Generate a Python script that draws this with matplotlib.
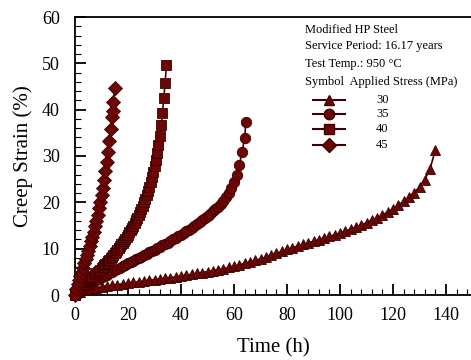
import matplotlib
matplotlib.use("Agg")
import matplotlib.pyplot as plt
from matplotlib.lines import Line2D

plt.rcParams['font.family'] = ['Liberation Serif', 'DejaVu Serif']

# 30 MPa (triangles)
t30 = [0, 2, 4, 6, 8, 10, 12, 14, 16, 18, 20, 22, 24, 26, 28, 30, 32, 34, 36, 38,
       40, 42, 44, 46, 48, 50, 52, 54, 56, 58, 60, 62, 64, 66, 68, 70, 72, 74, 76, 78,
       80, 82, 84, 86, 88, 90, 92, 94, 96, 98, 100, 102, 104, 106, 108, 110, 112, 114,
       116, 118, 120, 122, 124, 126, 128, 130, 132, 134, 136]
s30 = [0, 0.6, 1.0, 1.3, 1.55, 1.75, 1.95, 2.1, 2.25, 2.4, 2.55, 2.7, 2.85, 3.0, 3.15,
       3.3, 3.45, 3.6, 3.75, 3.9, 4.05, 4.25, 4.45, 4.65, 4.85, 5.05, 5.25, 5.45, 5.7,
       5.95, 6.2, 6.5, 6.8, 7.1, 7.45, 7.8, 8.2, 8.6, 9.0, 9.4, 9.85, 10.2, 10.55, 10.9,
       11.25, 11.6, 11.95, 12.3, 12.65, 13.0, 13.4, 13.8, 14.2, 14.65, 15.1, 15.6, 16.1,
       16.65, 17.25, 17.9, 18.6, 19.4, 20.2, 21.1, 22.1, 23.3, 24.9, 27.3, 31.3]

# 35 MPa (circles)
t35 = [0, 1, 2, 3, 4, 5, 6, 7, 8, 9, 10, 11, 12, 13, 14, 15, 16, 17, 18, 19, 20,
       21, 22, 23, 24, 25, 26, 27, 28, 29, 30, 31, 32, 33, 34, 35, 36, 37, 38, 39, 40,
       41, 42, 43, 44, 45, 46, 47, 48, 49, 50, 51, 52, 53, 54, 55, 56, 57, 58, 59, 60,
       61, 62, 63, 64, 64.5]
s35 = [0, 0.7, 1.2, 1.65, 2.05, 2.4, 2.7, 3.0, 3.3, 3.55, 3.8, 4.1, 4.4, 4.7, 5.0,
       5.3, 5.6, 5.9, 6.2, 6.5, 6.8, 7.1, 7.4, 7.7, 8.0, 8.3, 8.6, 8.9, 9.2, 9.5, 9.8,
       10.1, 10.4, 10.7, 11.0, 11.3, 11.65, 12.0, 12.35, 12.7, 13.05, 13.4, 13.75, 14.1,
       14.5, 14.9, 15.3, 15.7, 16.15, 16.6, 17.05, 17.55, 18.05, 18.55, 19.05, 19.6,
       20.3, 21.1, 22.0, 23.0, 24.3, 25.9, 28.0, 30.8, 33.8, 37.3]

# 40 MPa (squares)
t40 = [0, 0.5, 1, 1.5, 2, 2.5, 3, 3.5, 4, 4.5, 5, 5.5, 6, 6.5, 7, 7.5, 8, 8.5, 9, 9.5,
       10, 10.5, 11, 11.5, 12, 12.5, 13, 13.5, 14, 14.5, 15, 15.5, 16, 16.5, 17, 17.5,
       18, 18.5, 19, 19.5, 20, 20.5, 21, 21.5, 22, 22.5, 23, 23.5, 24, 24.5, 25, 25.5,
       26, 26.5, 27, 27.5, 28, 28.5, 29, 29.5, 30, 30.5, 31, 31.5, 32, 32.5, 33, 33.5,
       34, 34.5]
s40 = [0, 0.5, 0.9, 1.25, 1.6, 1.9, 2.2, 2.45, 2.7, 2.95, 3.2, 3.45, 3.7, 3.95, 4.2,
       4.45, 4.7, 4.95, 5.2, 5.5, 5.8, 6.1, 6.4, 6.7, 7.0, 7.3, 7.6, 7.95, 8.3, 8.65,
       9.0, 9.35, 9.7, 10.1, 10.5, 10.9, 11.3, 11.7, 12.1, 12.55, 13.0, 13.5, 14.0,
       14.5, 15.0, 15.55, 16.1, 16.7, 17.3, 17.95, 18.6, 19.3, 20.0, 20.8, 21.6, 22.5,
       23.4, 24.4, 25.4, 26.6, 27.8, 29.1, 30.6, 32.3, 34.3, 36.6, 39.3, 42.5, 45.8, 49.6]

# 45 MPa (diamonds)
t45 = [0, 0.5, 1, 1.5, 2, 2.5, 3, 3.5, 4, 4.5, 5, 5.5, 6, 6.5, 7, 7.5, 8, 8.5, 9,
       9.5, 10, 10.5, 11, 11.5, 12, 12.5, 13, 13.5, 14, 14.25, 14.5, 15]
s45 = [0, 1.3, 2.3, 3.2, 4.1, 5.0, 5.9, 6.8, 7.7, 8.6, 9.6, 10.6, 11.6, 12.6, 13.7,
       14.8, 16.0, 17.3, 18.7, 20.1, 21.6, 23.2, 24.9, 26.7, 28.6, 30.8, 33.3, 35.8,
       38.4, 39.8, 41.6, 44.6]

stress_labels = ["30", "35", "40", "45"]
markers = ["^", "o", "s", "D"]
fill = "#6e0505"
edge = "#3c0000"

fig = plt.figure(figsize=(4.71, 3.6), dpi=100)
ax = fig.add_axes([75/471, 65/360, 397.5/471, 278/360])

series = [(t30, s30, 7), (t35, s35, 7.5), (t40, s40, 6.5), (t45, s45, 7)]
for (t, s, ms), m in zip(series, markers):
    ax.plot(t, s, color=edge, lw=1.2, marker=m, ms=ms, mfc=fill, mec=edge,
            mew=0.6, clip_on=False, zorder=3)

ax.set_xlim(0, 150)
ax.set_ylim(0, 60)
ax.set_xticks(range(0, 141, 20))
ax.set_xticks(range(0, 151, 4), minor=True)
ax.set_yticks(range(0, 61, 10))
ax.set_yticks(range(0, 61, 2), minor=True)
ax.tick_params(which='major', direction='in', length=8, width=1.3, labelsize=13)
ax.tick_params(axis='x', which='major', pad=9)
ax.tick_params(axis='y', which='major', pad=11)
ax.tick_params(which='minor', direction='in', length=4, width=0.8)
for sp in ax.spines.values():
    sp.set_linewidth(1.3)
ax.spines['right'].set_visible(False)
ax.set_xlabel("Time (h)", fontsize=15, labelpad=10)
ax.set_ylabel("Creep Strain (%)", fontsize=15, labelpad=6)

# annotation block
fig.text(305/471, 1 - 30/360, "Modified HP Steel", fontsize=9, va='center')
fig.text(305/471, 1 - 46/360, "Service Period: 16.17 years", fontsize=9, va='center')
fig.text(305/471, 1 - 64/360, "Test Temp.: 950 \u00b0C", fontsize=9, va='center')
fig.text(305/471, 1 - 82/360, "Symbol  Applied Stress (MPa)", fontsize=9, va='center')
row_y = [100, 114, 129, 145]
for lab, m, y in zip(stress_labels, markers, row_y):
    yf = 1 - y/360
    fig.add_artist(Line2D([313/471, 345/471], [yf, yf], transform=fig.transFigure,
                          color=edge, lw=1.5, marker=None))
    fig.add_artist(Line2D([329/471], [yf], transform=fig.transFigure, marker=m,
                          ms=7.5, mfc=fill, mec=edge, lw=0))
    fig.text(376/471, yf, lab, fontsize=9, va='center')

fig.savefig("out.png", dpi=100)
